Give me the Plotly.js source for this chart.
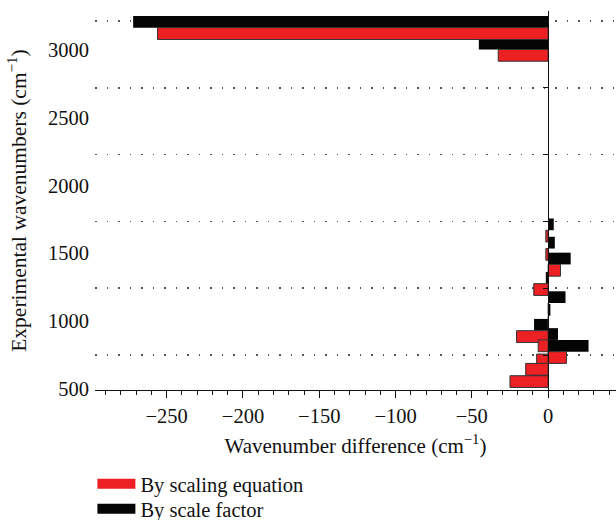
<!DOCTYPE html>
<html>
<head>
<meta charset="utf-8">
<script src="https://cdn.plot.ly/plotly-3.0.1.min.js"></script>
<style>html,body{margin:0;padding:0;background:#fff;}#chart{width:616px;height:520px;}</style>
</head>
<body>
<div id="chart"></div>
<script>
// Experimental wavenumbers (cm^-1), one per band
var expWavenumbers = [3200, 3037, 1684, 1547, 1428, 1284, 1139, 1044, 932, 863, 775, 757, 687, 595];
// Wavenumber difference by scale factor (black)
var diffScaleFactor = [-272, -45.4, 3.7, 4.4, 14.8, -1.5, 11.4, 1.5, -9.2, 6.5, 26.5, 5, 8, -10.5];
// Wavenumber difference by scaling equation (red)
var diffScalingEq = [-256, -32.7, -1.5, -1.5, 8.1, -9.4, 0.3, 0.3, -20.7, -6.5, 12, -7.5, -14.7, -25];

var seriesNames = ['By scaling equation', 'By scale factor'];
var yTickVals = [500, 1000, 1500, 2000, 2500, 3000];
var gridVals = [750, 1250, 1750, 2250, 2750, 3250];

var xRange = [-297, 44.5];
var yRange = [488, 3325];      // scale of the bars and the dotted grid
var yLabelRange = [489, 3288]; // scale of the printed tick labels
var barH = 88;

var RED = '#ED2024', BLACK = '#050505';
var FONT = 'Liberation Serif, Times New Roman, serif';

var traces = [
  {type: 'bar', orientation: 'h', y: expWavenumbers, x: diffScaleFactor,
   width: barH, offset: 0, marker: {color: BLACK, line: {width: 0}},
   showlegend: false, hoverinfo: 'skip'},
  {type: 'bar', orientation: 'h', y: expWavenumbers, x: diffScalingEq,
   width: barH, offset: -barH, marker: {color: RED, line: {width: 1, color: '#333'}},
   showlegend: false, hoverinfo: 'skip'},
  {type: 'scatter', mode: 'lines', x: [null], y: [null], name: seriesNames[0],
   line: {color: RED, width: 12}, legend: 'legend'},
  {type: 'scatter', mode: 'lines', x: [null], y: [null], name: seriesNames[1],
   line: {color: BLACK, width: 12}, legend: 'legend2'},
  {type: 'scatter', mode: 'none', x: [null], y: [null], yaxis: 'y2',
   showlegend: false, hoverinfo: 'skip'},
  {type: 'scatter', mode: 'none', x: [null], y: [null], yaxis: 'y3',
   showlegend: false, hoverinfo: 'skip'}
];

var zeroPos = (0 - xRange[0]) / (xRange[1] - xRange[0]);

var legendBase = {
  x: -0.005, xanchor: 'left', yanchor: 'top',
  font: {family: FONT, size: 20.5, color: '#111'},
  itemwidth: 38, bgcolor: 'rgba(0,0,0,0)'
};

var layout = {
  width: 616, height: 520,
  margin: {l: 95, r: 0, t: 11, b: 130, autoexpand: false},
  paper_bgcolor: '#fff', plot_bgcolor: '#fff',
  barmode: 'overlay',
  font: {family: FONT, size: 20, color: '#111'},
  xaxis: {
    range: xRange, tickmode: 'linear', tick0: 0, dtick: 50,
    ticks: 'outside', ticklen: 7, tickcolor: '#111', tickwidth: 1,
    minor: {dtick: 10, ticklen: 4, ticks: 'outside', tickcolor: '#111'},
    showline: true, linecolor: '#111', linewidth: 1,
    showgrid: false, zeroline: false, automargin: false,
    tickfont: {family: FONT, size: 20.5},
    title: {text: 'Wavenumber difference (cm<sup>−1</sup>)', font: {family: FONT, size: 21}, standoff: 12}
  },
  yaxis: {
    range: yRange, showticklabels: false,
    ticks: '', showline: false, showgrid: false, zeroline: false, automargin: false
  },
  yaxis3: {
    overlaying: 'y', anchor: 'x', side: 'left',
    range: yLabelRange, tickmode: 'array', tickvals: yTickVals,
    ticks: '', showline: false, showgrid: false, zeroline: false, automargin: false,
    ticklabelstandoff: 5,
    tickfont: {family: FONT, size: 20.5},
    title: {text: 'Experimental wavenumbers (cm<sup>−1</sup>)', font: {family: FONT, size: 21.5}, standoff: 15}
  },
  yaxis2: {
    overlaying: 'y', anchor: 'free', position: zeroPos, side: 'left',
    range: yRange, tickmode: 'array', tickvals: gridVals,
    showticklabels: false, ticks: 'outside', ticklen: 5, tickcolor: '#111',
    showline: true, linecolor: '#111', linewidth: 1,
    showgrid: true, gridcolor: '#555', gridwidth: 1.5, griddash: '1.5px,10px',
    zeroline: false, automargin: false
  },
  legend: Object.assign({}, legendBase, {y: -0.1953}),
  legend2: Object.assign({}, legendBase, {y: -0.2612}),
  showlegend: true
};

Plotly.newPlot('chart', traces, layout, {displayModeBar: false, staticPlot: true});
</script>
</body>
</html>
